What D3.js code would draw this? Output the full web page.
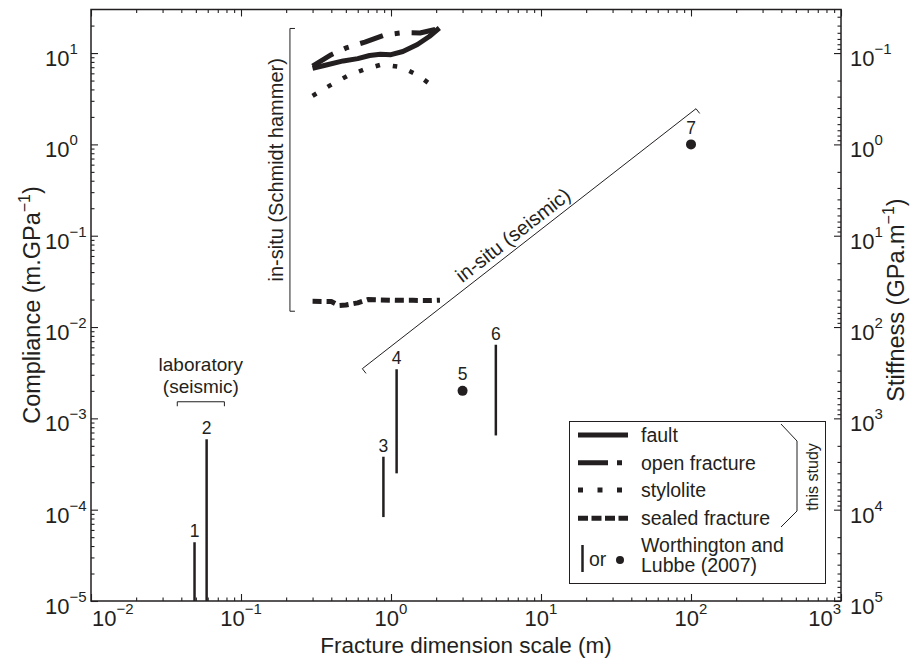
<!DOCTYPE html>
<html>
<head>
<meta charset="utf-8">
<script src="https://cdn.jsdelivr.net/npm/d3@7"></script>
<style>
  body { margin: 0; background: #fff; }
  text { font-family: "Liberation Sans", Arial, Helvetica, sans-serif; fill: #231f20; }
</style>
</head>
<body>
<svg id="chart" width="914" height="659"></svg>
<script>
// Fracture compliance (and stiffness) against fracture dimension scale

// Decade exponents used for major ticks and labels
const xDecades = [-2, -1, 0, 1, 2, 3];
const yDecades = [-5, -4, -3, -2, -1, 0, 1];
const stiffDecades = [5, 4, 3, 2, 1, 0, -1];

// This study: Schmidt hammer measurements (scale in m, compliance in m/GPa)
const faultScale      = [0.30, 0.37, 0.48, 0.60, 0.72, 0.85, 1.00, 1.20, 1.50, 1.80, 2.10];
const faultCompliance = [6.8, 7.4, 8.2, 8.7, 9.4, 9.7, 9.6, 10.4, 12.4, 15.2, 18.8];

const openScale      = [0.30, 0.40, 0.51, 0.67, 0.91, 1.19, 1.56, 2.12];
const openCompliance = [7.2, 9.6, 11.5, 13.2, 15.8, 16.7, 16.6, 18.6];

const styloScale      = [0.30, 0.39, 0.51, 0.66, 0.87, 1.18, 1.52, 1.91];
const styloCompliance = [3.4, 4.4, 5.6, 6.6, 7.5, 7.0, 5.7, 4.3];

const sealedScale      = [0.30, 0.40, 0.45, 0.50, 0.60, 0.70, 0.85, 1.10, 1.40, 1.80, 2.12];
const sealedCompliance = [0.0191, 0.0190, 0.0172, 0.0174, 0.0184, 0.0200, 0.0198, 0.0196, 0.0196, 0.0195, 0.0197];

// Worthington and Lubbe (2007): ranges (bars) or single values (dots)
const wlId    = ["1", "2", "3", "4", "5", "6", "7"];
const wlScale = [0.049, 0.059, 0.89, 1.09, 3, 5, 100];
const wlLow   = [1e-5, 1e-5, 8.3e-5, 2.5e-4, 2e-3, 6.5e-4, 1];
const wlHigh  = [4.4e-5, 5.9e-4, 3.8e-4, 3.45e-3, 2e-3, 6.4e-3, 1];

// Annotation anchors (data units)
const schmidtBracket = { scale: 0.212, top: 18.6, bottom: 0.0149 };
const labBracket = { from: 0.0376, to: 0.0775, level: 1.52e-3 };
const seismicLine = { x0: 0.644, y0: 3.5e-3, x1: 108, y1: 2.46 };

const ink = "#231f20";
const svg = d3.select("#chart");

const X0 = 91, X1 = 841, Y0 = 601, Y1 = 9.5;
const x = d3.scaleLog().domain([1e-2, 1e3]).range([X0, X1]);
const y = d3.scaleLog().domain([1e-5, 30]).range([Y0, Y1]);
const s = d3.scaleLog().domain([1e5, 1 / 30]).range([Y0, Y1]);

function minorTicks(scale, eFrom, eTo) {
  const [a, b] = d3.extent(scale.domain());
  const out = [];
  for (let e = eFrom; e <= eTo; e++)
    for (let k = 2; k <= 9; k++) {
      const v = k * Math.pow(10, e);
      if (v > a * 1.0001 && v < b * 0.9999) out.push(v);
    }
  return out;
}
const pow10 = e => Math.pow(10, e);

// ---- ticks (inward, on all four sides)
function tickLayer(axis, transform) {
  const g = svg.append("g").attr("transform", transform).style("color", ink).call(axis);
  g.select(".domain").remove();
  g.selectAll("text").remove();
  g.selectAll("line").attr("stroke-width", 1.1);
  return g;
}
const xMaj = xDecades.map(pow10), xMin = minorTicks(x, -2, 2);
const yMaj = yDecades.map(pow10), yMin = minorTicks(y, -5, 1);
const sMaj = stiffDecades.map(pow10), sMin = minorTicks(s, -2, 4);

tickLayer(d3.axisBottom(x).tickValues(xMaj).tickSizeInner(-7).tickSizeOuter(0), `translate(0,${Y0})`);
tickLayer(d3.axisBottom(x).tickValues(xMin).tickSizeInner(-3.5).tickSizeOuter(0), `translate(0,${Y0})`);
tickLayer(d3.axisTop(x).tickValues(xMaj).tickSizeInner(-7).tickSizeOuter(0), `translate(0,${Y1})`);
tickLayer(d3.axisTop(x).tickValues(xMin).tickSizeInner(-3.5).tickSizeOuter(0), `translate(0,${Y1})`);
tickLayer(d3.axisLeft(y).tickValues(yMaj).tickSizeInner(-7).tickSizeOuter(0), `translate(${X0},0)`);
tickLayer(d3.axisLeft(y).tickValues(yMin).tickSizeInner(-3.5).tickSizeOuter(0), `translate(${X0},0)`);
tickLayer(d3.axisRight(s).tickValues(sMaj).tickSizeInner(-7).tickSizeOuter(0), `translate(${X1},0)`);
tickLayer(d3.axisRight(s).tickValues(sMin).tickSizeInner(-3.5).tickSizeOuter(0), `translate(${X1},0)`);

// frame
svg.append("rect").attr("x", X0).attr("y", Y1).attr("width", X1 - X0).attr("height", Y0 - Y1)
  .attr("fill", "none").attr("stroke", ink).attr("stroke-width", 1.5);

// ---- tick labels: powers of ten
function expLabel(px, py, e, anchor) {
  const t = svg.append("text").attr("x", px).attr("y", py).attr("text-anchor", anchor)
    .style("font-size", "22px");
  t.append("tspan").text("10");
  t.append("tspan").attr("dy", -12).style("font-size", "15px").text(e < 0 ? "\u2212" + (-e) : String(e));
  return t;
}
xDecades.forEach(e => {
  const t = expLabel(x(pow10(e)), 626, e, "middle");
  const b = t.node().getBBox();
  if (b.x < X0) t.attr("x", +t.attr("x") + (X0 - b.x) + 1);
  if (b.x + b.width > X1) t.attr("x", +t.attr("x") - (b.x + b.width - X1));
});
yDecades.forEach(e => expLabel(45, y(pow10(e)) + 13, e, "start"));
stiffDecades.forEach(e => expLabel(850, s(pow10(e)) + 13, e, "start"));

// ---- axis titles
svg.append("text").attr("x", (X0 + X1) / 2).attr("y", 653).attr("text-anchor", "middle")
  .style("font-size", "22.5px").text("Fracture dimension scale (m)");

function rotatedTitle(cx, cy, main, tail) {
  const t = svg.append("text").attr("transform", `translate(${cx},${cy}) rotate(-90)`)
    .attr("text-anchor", "middle").style("font-size", "23.5px");
  t.append("tspan").text(main);
  t.append("tspan").attr("dy", -10).style("font-size", "16px").text("\u22121");
  t.append("tspan").attr("dy", 10).text(tail);
}
rotatedTitle(40, 305, "Compliance (m.GPa", ")");
rotatedTitle(904, 300, "Stiffness (GPa.m", ")");

// ---- this study curves
const line = d3.line().x(d => x(d[0])).y(d => y(d[1]));
const curves = [
  { pts: d3.zip(faultScale, faultCompliance), dash: null, w: 5 },
  { pts: d3.zip(openScale, openCompliance), dash: "24,12,5,12", w: 5 },
  { pts: d3.zip(styloScale, styloCompliance), dash: "4.5,13", w: 4.5 },
  { pts: d3.zip(sealedScale, sealedCompliance), dash: "9,5", w: 5 }
];
svg.append("g").selectAll("path").data(curves).join("path")
  .attr("d", d => line(d.pts))
  .attr("fill", "none").attr("stroke", ink)
  .attr("stroke-width", d => d.w)
  .attr("stroke-dasharray", d => d.dash)
  .attr("stroke-linejoin", "round");

// ---- Worthington and Lubbe (2007)
const wl = wlId.map((id, i) => ({ id, sc: wlScale[i], lo: wlLow[i], hi: wlHigh[i] }));
const wlG = svg.append("g");
wl.forEach(d => {
  const px = x(d.sc);
  let labelY;
  if (d.hi > d.lo) {
    wlG.append("line").attr("x1", px).attr("x2", px).attr("y1", y(d.lo)).attr("y2", y(d.hi))
      .attr("stroke", ink).attr("stroke-width", 2.5);
    labelY = y(d.hi) - 5;
  } else {
    wlG.append("circle").attr("cx", px).attr("cy", y(d.hi)).attr("r", 5).attr("fill", ink);
    labelY = y(d.hi) - 10.5;
  }
  wlG.append("text").attr("x", px).attr("y", labelY).attr("text-anchor", "middle")
    .style("font-size", "17.5px").text(d.id);
});

// ---- annotations
const ann = svg.append("g").attr("fill", "none").attr("stroke", ink).attr("stroke-width", 1);

// in-situ (Schmidt hammer) bracket
{
  const bx = x(schmidtBracket.scale), bt = y(schmidtBracket.top), bb = y(schmidtBracket.bottom);
  ann.append("path").attr("d", `M${bx + 5},${bt}H${bx}V${bb}H${bx + 5}`);
  svg.append("text").attr("transform", `translate(${bx - 7},${(bt + bb) / 2}) rotate(-90)`)
    .attr("text-anchor", "middle").style("font-size", "20px").text("in-situ (Schmidt hammer)");
}

// laboratory (seismic) bracket
{
  const a = x(labBracket.from), b = x(labBracket.to), ly = y(labBracket.level);
  ann.append("path").attr("d", `M${a},${ly + 4.5}V${ly}H${b}V${ly + 4.5}`);
  svg.append("text").attr("x", (a + b) / 2).attr("y", ly - 31).attr("text-anchor", "middle")
    .style("font-size", "19px").text("laboratory");
  svg.append("text").attr("x", (a + b) / 2).attr("y", ly - 9).attr("text-anchor", "middle")
    .style("font-size", "19px").text("(seismic)");
}

// in-situ (seismic) trend line
{
  const p0 = [x(seismicLine.x0), y(seismicLine.y0)], p1 = [x(seismicLine.x1), y(seismicLine.y1)];
  const dx = p1[0] - p0[0], dy = p1[1] - p0[1], len = Math.hypot(dx, dy);
  const ux = dx / len, uy = dy / len, nx = -uy, ny = ux;
  ann.append("path").attr("d",
    `M${p0[0] + 6 * nx},${p0[1] + 6 * ny}L${p0[0]},${p0[1]}L${p1[0]},${p1[1]}L${p1[0] + 6 * nx},${p1[1] + 6 * ny}`);
  const t = 0.475, cx = p0[0] + dx * t, cy = p0[1] + dy * t;
  const ang = Math.atan2(dy, dx) * 180 / Math.PI;
  svg.append("text").attr("transform", `translate(${cx},${cy}) rotate(${ang})`)
    .attr("y", -6).attr("text-anchor", "middle").style("font-size", "20px").text("in-situ (seismic)");
}

// ---- legend
const lg = svg.append("g");
lg.append("rect").attr("x", 569.5).attr("y", 421.5).attr("width", 256).attr("height", 162)
  .attr("fill", "#fff").attr("stroke", ink).attr("stroke-width", 1);
const legendRows = [
  { label: "fault", dash: null, w: 5, cy: 435 },
  { label: "open fracture", dash: "30,9,5,20", w: 5, cy: 462.7 },
  { label: "stylolite", dash: "5,14.5", w: 5, cy: 490 },
  { label: "sealed fracture", dash: "10,3.5", w: 5, cy: 518.3 }
];
legendRows.forEach(r => {
  lg.append("line").attr("x1", 578).attr("x2", 628).attr("y1", r.cy).attr("y2", r.cy)
    .attr("stroke", ink).attr("stroke-width", r.w).attr("stroke-dasharray", r.dash);
  lg.append("text").attr("x", 641).attr("y", r.cy + 7).style("font-size", "19.5px").text(r.label);
});
lg.append("line").attr("x1", 582.5).attr("x2", 582.5).attr("y1", 545).attr("y2", 572)
  .attr("stroke", ink).attr("stroke-width", 2.5);
lg.append("text").attr("x", 589).attr("y", 566).style("font-size", "19.5px").text("or");
lg.append("circle").attr("cx", 620).attr("cy", 560).attr("r", 4).attr("fill", ink);
lg.append("text").attr("x", 641).attr("y", 552).style("font-size", "19.5px").text("Worthington and");
lg.append("text").attr("x", 641).attr("y", 572).style("font-size", "19.5px").text("Lubbe (2007)");

// "this study" brace
lg.append("path").attr("d", "M781,424L797,441L797,511L781,527")
  .attr("fill", "none").attr("stroke", ink).attr("stroke-width", 1);
lg.append("text").attr("transform", "translate(818,477) rotate(-90)").attr("text-anchor", "middle")
  .style("font-size", "16px").text("this study");
</script>
</body>
</html>
